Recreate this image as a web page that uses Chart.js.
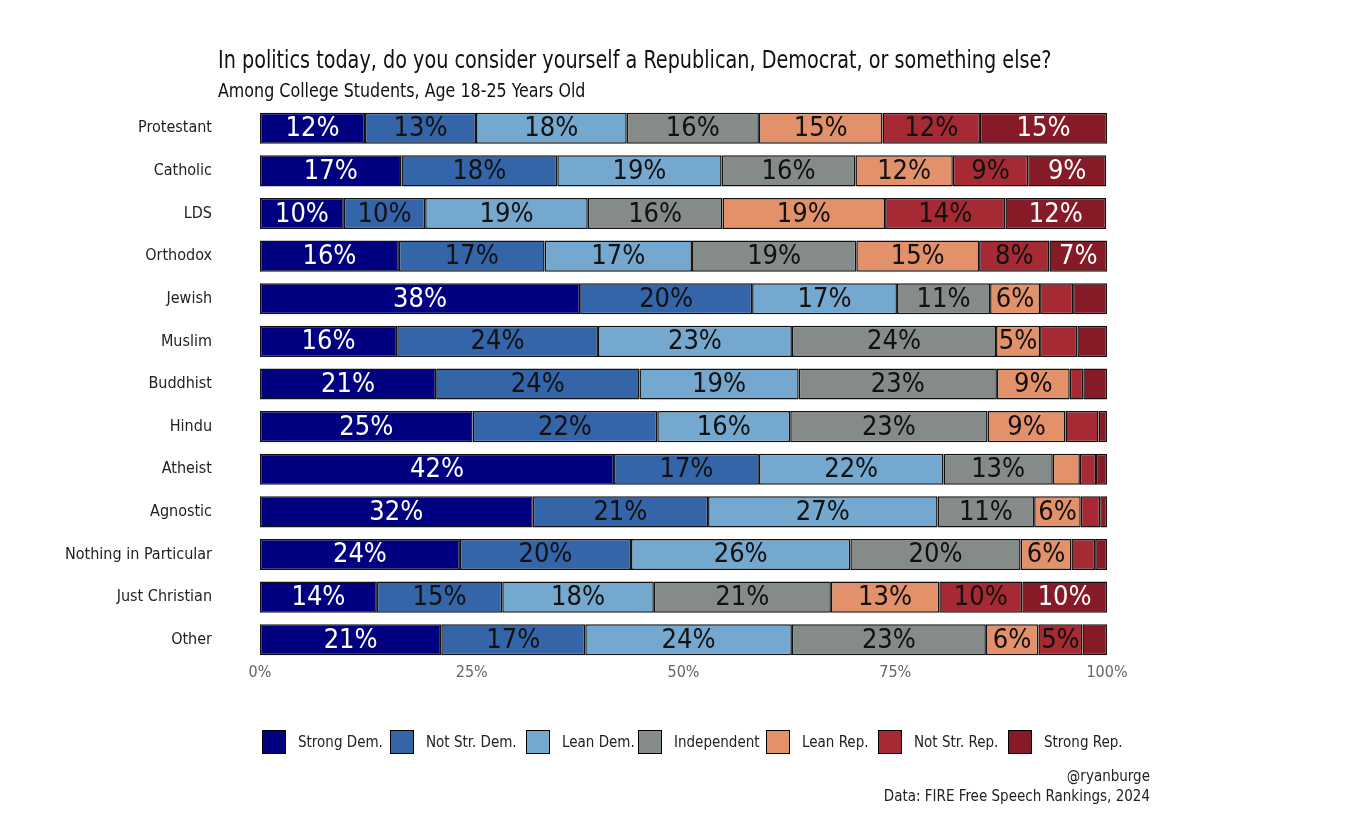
<!DOCTYPE html>
<html>
<head>
<meta charset="utf-8">
<script src="https://cdn.jsdelivr.net/npm/chart.js@4.4.1/dist/chart.umd.min.js"></script>
<style>
  html, body { margin:0; padding:0; background:#fff; }
  body { width:1352px; height:830px; position:relative; overflow:hidden;
         font-family: "Liberation Sans Narrow", "DejaVu Sans Condensed", "Roboto", sans-serif; color:#111; }
  #wrap { position:absolute; left:0; top:0; width:1352px; height:830px; }
  .title { position:absolute; left:218px; top:46px; font-size:24px; white-space:nowrap; transform:scaleX(0.89); transform-origin:left center; }
  .subtitle { position:absolute; left:218px; top:79px; font-size:19px; white-space:nowrap; transform:scaleX(0.93); transform-origin:left center; }
  .caption { position:absolute; right:202px; top:766px; font-size:15px; text-align:right; line-height:20px; color:#222; }
  #legend { position:absolute; left:0; top:729px; width:1352px; height:26px; font-size:15px; color:#222; }
  .li { position:absolute; top:0; display:flex; align-items:center; height:26px; white-space:nowrap; }
  .sw { width:22px; height:22px; border:1.5px solid #000; margin-right:12px; }
</style>
</head>
<body>
<div id="wrap"><canvas id="c" width="1352" height="830"></canvas></div>
<div class="title">In politics today, do you consider yourself a Republican, Democrat, or something else?</div>
<div class="subtitle">Among College Students, Age 18-25 Years Old</div>
<div id="legend"></div>
<div class="caption">@ryanburge<br>Data: FIRE Free Speech Rankings, 2024</div>
<script>
const categories = ["Protestant","Catholic","LDS","Orthodox","Jewish","Muslim","Buddhist","Hindu","Atheist","Agnostic","Nothing in Particular","Just Christian","Other"];
const seriesNames = ["Strong Dem.","Not Str. Dem.","Lean Dem.","Independent","Lean Rep.","Not Str. Rep.","Strong Rep."];
const strongDem   = [12.4,16.7, 9.9,16.4,37.8,16.2,20.8,25.1,41.8,32.2,23.6,13.8,21.4];
const notStrDem   = [13.1,18.4, 9.6,17.2,20.3,23.7,24.0,21.8,17.1,20.7,20.2,14.8,17.0];
const leanDem     = [17.8,19.4,19.2,17.4,17.1,22.9,18.8,15.7,21.8,27.1,25.9,17.9,24.4];
const independent = [15.6,15.8,15.9,19.4,11.0,24.1,23.4,23.3,12.9,11.4,20.1,20.9,22.9];
const leanRep     = [14.6,11.5,19.2,14.5, 5.9, 5.2, 8.6, 9.2, 3.2, 5.5, 6.0,12.8, 6.2];
const notStrRep   = [11.5, 8.9,14.2, 8.3, 3.9, 4.4, 1.6, 3.9, 1.9, 2.3, 2.8, 9.8, 5.2];
const strongRep   = [15.0, 9.2,11.9, 6.8, 4.0, 3.5, 2.8, 1.0, 1.3, 0.8, 1.4,10.0, 2.9];
const xTicks = [0,25,50,75,100];

const seriesValues = [strongDem, notStrDem, leanDem, independent, leanRep, notStrRep, strongRep];
const colors = ["#000080","#3465A9","#75A8CF","#848B89","#E3916A","#A52A33","#861A27"];
const labelColors = ["#ffffff","#111111","#111111","#111111","#111111","#111111","#ffffff"];
const legendLefts = [262,390,526,638,766,878,1008];
const FONT = '"Liberation Sans Narrow", "DejaVu Sans Condensed", "Roboto", sans-serif';

const legend = document.getElementById('legend');
seriesNames.forEach((n,i)=>{
  const d = document.createElement('div'); d.className='li';
  d.style.left = legendLefts[i] + 'px';
  d.innerHTML = '<div class="sw" style="background:'+colors[i]+'"></div><span>'+n+'</span>';
  legend.appendChild(d);
});

const barLabels = {
  id:'barLabels',
  afterDatasetsDraw(chart){
    const ctx = chart.ctx;
    ctx.save();
    ctx.font = '27px ' + FONT;
    ctx.textAlign = 'center';
    ctx.textBaseline = 'middle';
    chart.data.datasets.forEach((ds,di)=>{
      const meta = chart.getDatasetMeta(di);
      meta.data.forEach((el,i)=>{
        const v = ds.data[i];
        const r = Math.round(v);
        if (r < 5) return;
        const x = (el.x + el.base)/2;
        ctx.fillStyle = labelColors[di];
        ctx.fillText(r + '%', x, el.y + 1);
      });
    });
    ctx.restore();
  }
};

new Chart(document.getElementById('c'), {
  type:'bar',
  data:{
    labels: categories,
    datasets: seriesValues.map((vals,i)=>({
      label: seriesNames[i],
      data: vals,
      backgroundColor: colors[i],
      borderColor: '#111',
      borderWidth: 1.5,
      borderSkipped: false,
      categoryPercentage: 1.0,
      barPercentage: 0.73
    }))
  },
  options:{
    indexAxis:'y',
    responsive:false,
    animation:false,
    devicePixelRatio:1,
    layout:{ padding:{ left:0, right:245, top:107, bottom:139 } },
    plugins:{ legend:{display:false}, tooltip:{enabled:false}, title:{display:false} },
    scales:{
      x:{
        stacked:true, min:0, max:100,
        afterBuildTicks(scale){ scale.ticks = xTicks.map(v=>({value:v})); },
        grid:{display:false, drawTicks:false},
        border:{display:false},
        ticks:{ callback:v=>v+'%', color:'#666', font:{family:FONT, size:16}, padding:2, maxRotation:0 },
        afterFit(scale){ scale.height = 30; }
      },
      y:{
        stacked:true,
        grid:{display:false, drawTicks:false},
        border:{display:false},
        ticks:{ color:'#222', font:{family:FONT, size:16}, padding:48 },
        afterFit(scale){ scale.width = 260; }
      }
    }
  },
  plugins:[barLabels]
});
</script>
</body>
</html>
